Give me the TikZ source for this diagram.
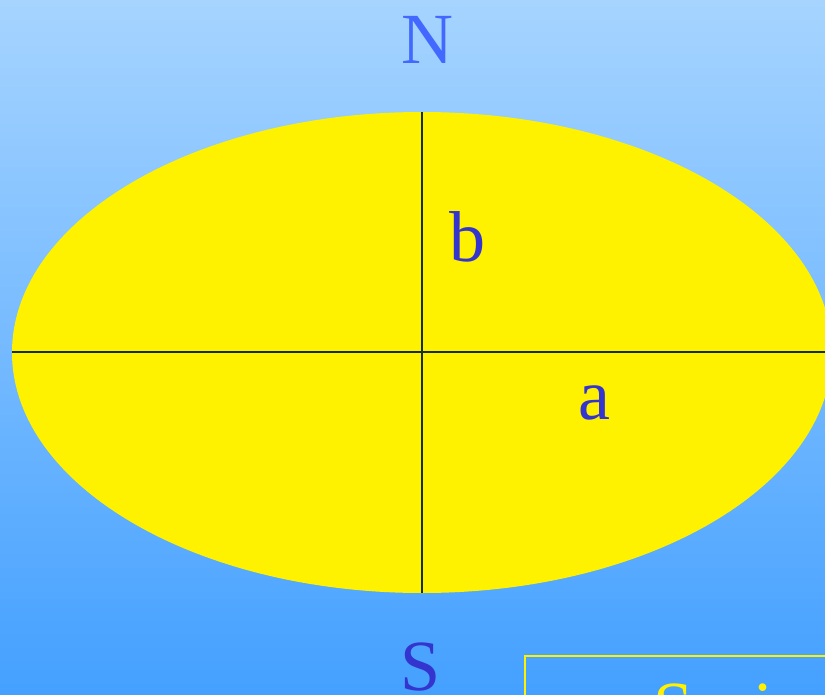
\documentclass[tikz,border=0pt]{standalone}
\usepackage{fontspec}
\setmainfont{Liberation Serif}
\definecolor{skytop}{RGB}{166,212,255}
\definecolor{skybottom}{RGB}{68,160,255}
\definecolor{northblue}{RGB}{66,104,255}
\definecolor{labelblue}{RGB}{52,52,206}
\definecolor{axisgreen}{RGB}{22,48,22}

\begin{document}
\begin{tikzpicture}[x=1pt, y=-1pt,
    every node/.style={font=\fontsize{72}{80}\selectfont, inner sep=0pt},
    lbl/.style={text=labelblue, anchor=base},
    axis/.style={draw=axisgreen, line width=1.6pt},
    season/.style={text=yellow, anchor=base west},
]
\useasboundingbox (0,0) rectangle (825,694);
\clip (0,0) rectangle (825,694);
% === Sky background ===
\shade[top color=skytop, bottom color=skybottom] (0,0) rectangle (825,694);
% === Orbit ellipse ===
\fill[yellow] (422,352.5) ellipse [x radius=410, y radius=240.5];
% Axis end points
\coordinate (top) at (422,112);
\coordinate (bottom) at (422,593);
\coordinate (left) at (12,352);
\coordinate (right) at (830,352);
% Axes
\draw[axis] (top) -- (bottom);
\draw[axis] (left) -- (right);
% === Labels ===
\node[text=northblue, anchor=base] (N) at (427,63) {N};
\node[lbl] (S) at (421,690) {S};
\node[lbl] (b) at (467,261) {b};
\node[lbl] (a) at (594,419) {a};
% === Season box (cut off) ===
\draw[yellow, line width=1.5pt] (525,656) rectangle (900,800);
\node[season] (spring) at (653,731) {Spring};
\end{tikzpicture}
\end{document}
